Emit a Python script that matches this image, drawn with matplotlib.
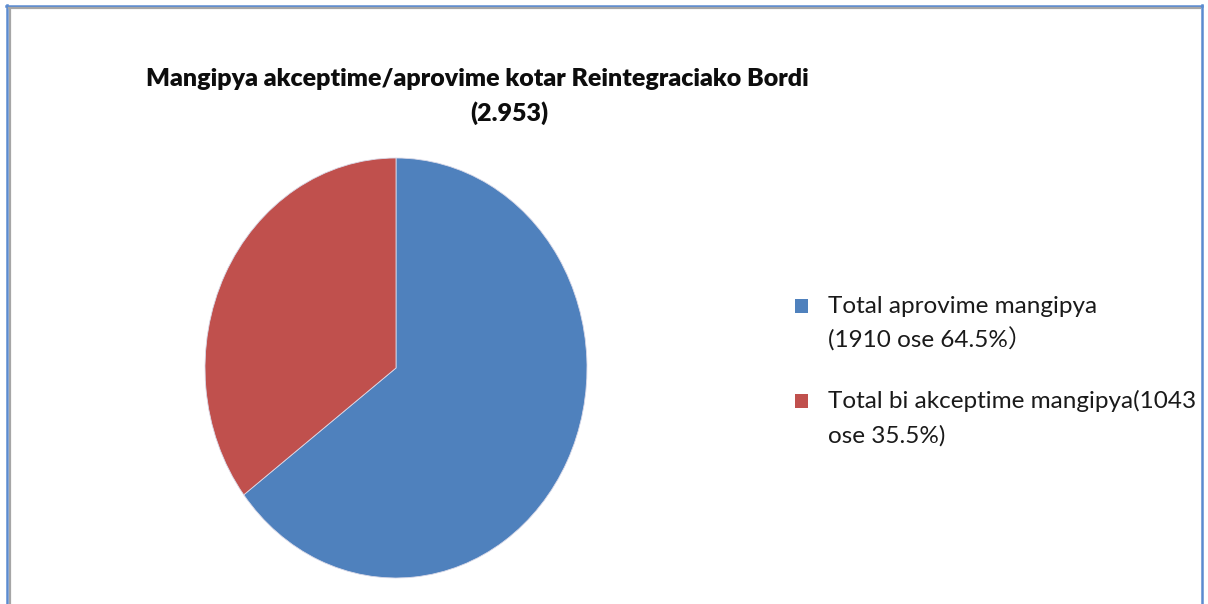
import matplotlib
matplotlib.use("Agg")
import matplotlib.pyplot as plt
from matplotlib.patches import Rectangle

# ---- data ----
categories = ["Total aprovime mangipya", "Total bi akceptime mangipya"]
values = [1910, 1043]
legend_labels = ["Total aprovime mangipya\n(1910 ose 64.5%\uFF09",
                 "Total bi akceptime mangipya(1043\nose 35.5%)"]
title_line1 = "Mangipya akceptime/aprovime kotar Reintegraciako Bordi"
title_line2 = "(2.953)"
colors = ["#4F81BD", "#C0504D"]

W, H = 1208, 604
fig = plt.figure(figsize=(W / 100, H / 100), dpi=100)
fig.patch.set_facecolor("white")

def fx(x):
    return x / W

def fy(y):
    return 1 - y / H

# pie axes (ellipse: 382 px wide, 420 px tall)
left, right, top, bottom = 205, 587, 158, 578
ax = fig.add_axes([fx(left), fy(bottom), (right - left) / W, (bottom - top) / H])
wedges, _ = ax.pie(values, colors=colors, startangle=90, counterclock=False,
                   wedgeprops=dict(edgecolor="#d9d9e8", linewidth=0.6))
ax.set_aspect("auto")
ax.set_xlim(-1, 1)
ax.set_ylim(-1, 1)
ax.axis("off")

font = ["Lato", "Noto Sans CJK SC", "DejaVu Sans"]

# title
fig.text(fx(477), fy(86), title_line1, ha="center", va="baseline",
         fontsize=18, fontweight="heavy", family=font, color="#0d0d0d")
fig.text(fx(509), fy(121), title_line2, ha="center", va="baseline",
         fontsize=18, fontweight="heavy", family=font, color="#0d0d0d")

# legend
base_y = [313, 408]
for lab, col, y in zip(legend_labels, colors, base_y):
    fig.patches.append(Rectangle((fx(795), fy(y)), 13 / W, 14 / H,
                                 transform=fig.transFigure, facecolor=col,
                                 edgecolor="none"))
    for i, line in enumerate(lab.split("\n")):
        fig.text(fx(828), fy(y + 35 * i), line, ha="left", va="baseline",
                 fontsize=17.5, family=font, color="#1a1a1a")

# frame (blue border with grey shadow)
fig.add_artist(plt.Line2D([fx(6.5), fx(6.5)], [0, fy(5)], transform=fig.transFigure,
                          color="#5B8BD0", linewidth=1.8))
fig.add_artist(plt.Line2D([fx(9.5), fx(9.5)], [0, fy(8)], transform=fig.transFigure,
                          color="#A6A6A6", linewidth=1.6))
fig.add_artist(plt.Line2D([fx(6), fx(1202)], [fy(5.5), fy(5.5)], transform=fig.transFigure,
                          color="#5B8BD0", linewidth=1.8))
fig.add_artist(plt.Line2D([fx(9), fx(1200)], [fy(8), fy(8)], transform=fig.transFigure,
                          color="#A6A6A6", linewidth=1.6))
fig.add_artist(plt.Line2D([fx(1201.5), fx(1201.5)], [0, fy(5)], transform=fig.transFigure,
                          color="#5B8BD0", linewidth=1.8))

fig.savefig("out.png", dpi=100, facecolor="white")
